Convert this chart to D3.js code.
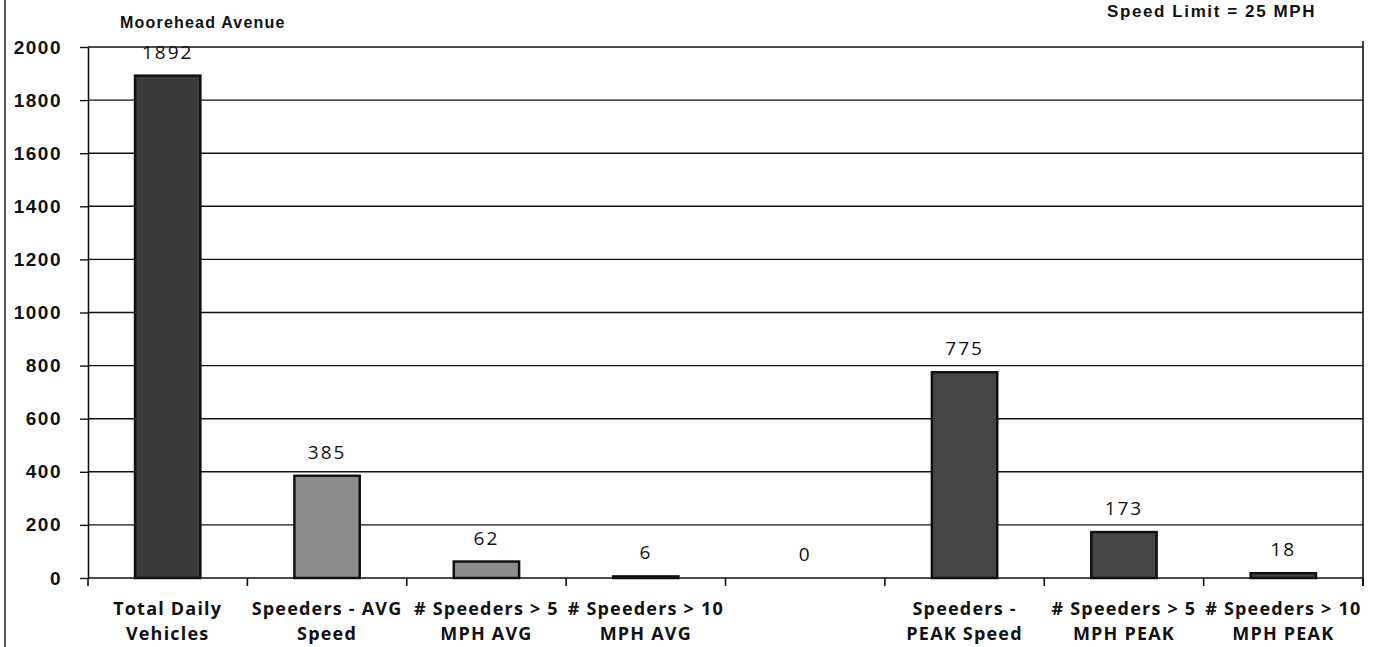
<!DOCTYPE html>
<html>
<head>
<meta charset="utf-8">
<script src="https://cdn.jsdelivr.net/npm/d3@7"></script>
<style>
  body { margin: 0; background: #fff; }
  svg { display: block; }
</style>
</head>
<body>
<div id="chart"></div>
<script>
// data
let categories = [
  ["Total Daily", "Vehicles"],
  ["Speeders - AVG", "Speed"],
  ["# Speeders > 5", "MPH AVG"],
  ["# Speeders > 10", "MPH AVG"],
  ["", ""],
  ["Speeders -", "PEAK Speed"],
  ["# Speeders > 5", "MPH PEAK"],
  ["# Speeders > 10", "MPH PEAK"]
];
let values = [1892, 385, 62, 6, 0, 775, 173, 18];
let barColors = ["#3a3a3a", "#8c8c8c", "#8c8c8c", "#8c8c8c", "#8c8c8c", "#464646", "#464646", "#464646"];
let yTicks = [0, 200, 400, 600, 800, 1000, 1200, 1400, 1600, 1800, 2000];

let width = 1377, height = 647;
let margin = {left: 88, right: 14, top: 47, bottom: 69};

let svg = d3.select("#chart").append("svg")
  .attr("width", width)
  .attr("height", height);

let x = d3.scaleBand()
  .domain(d3.range(categories.length))
  .range([margin.left, width - margin.right])
  .paddingInner(0.59)
  .paddingOuter(0.295);

let y = d3.scaleLinear()
  .domain([0, 2000])
  .range([height - margin.bottom, margin.top]);

// left scan border
svg.append("line")
  .attr("x1", 5).attr("x2", 5)
  .attr("y1", 0).attr("y2", height)
  .style("stroke", "#222").style("stroke-width", 1.5);

// gridlines
svg.append("g").selectAll("line")
  .data(yTicks.filter(d => d > 0))
  .enter().append("line")
  .attr("x1", margin.left).attr("x2", width - margin.right)
  .attr("y1", d => y(d)).attr("y2", d => y(d))
  .style("stroke", "#111").style("stroke-width", 1.4);

// right border
svg.append("line")
  .attr("x1", width - margin.right).attr("x2", width - margin.right)
  .attr("y1", y(2000) - 6).attr("y2", y(0) + 8)
  .style("stroke", "#111").style("stroke-width", 1.6);

// y axis
let yAxis = svg.append("g")
  .attr("transform", "translate(" + margin.left + ",0)")
  .call(d3.axisLeft(y).tickValues(yTicks).tickFormat(d3.format("d"))
    .tickSize(8).tickPadding(18).tickSizeOuter(0));
yAxis.select(".domain").style("stroke", "#111").style("stroke-width", 1.6);
yAxis.selectAll(".tick line").style("stroke", "#111").style("stroke-width", 1.4);
yAxis.selectAll("text")
  .style("font-family", "'Liberation Sans', Arial, sans-serif")
  .style("font-weight", "bold")
  .style("font-size", "19px")
  .style("letter-spacing", "1.5px")
  .style("fill", "#111");

// x axis
let xAxisG = svg.append("g")
  .attr("transform", "translate(0," + y(0) + ")");
xAxisG.append("line")
  .attr("x1", margin.left).attr("x2", width - margin.right)
  .style("stroke", "#111").style("stroke-width", 1.6);
let bounds = d3.range(categories.length + 1).map(i => margin.left + i * (width - margin.left - margin.right) / categories.length);
xAxisG.selectAll(".xt")
  .data(bounds)
  .enter().append("line")
  .attr("class", "xt")
  .attr("x1", d => d).attr("x2", d => d)
  .attr("y1", 0).attr("y2", 8)
  .style("stroke", "#111").style("stroke-width", 1.6);

// bars
svg.append("g").selectAll("rect")
  .data(values)
  .enter().append("rect")
  .attr("x", (d, i) => x(i))
  .attr("width", x.bandwidth())
  .attr("y", d => y(d))
  .attr("height", d => y(0) - y(d))
  .style("fill", (d, i) => barColors[i])
  .style("stroke", "#111")
  .style("stroke-width", 2.5);

// value labels
svg.append("g").selectAll("text")
  .data(values)
  .enter().append("text")
  .attr("x", (d, i) => x(i) + x.bandwidth() / 2)
  .attr("y", d => y(d) - 17)
  .attr("text-anchor", "middle")
  .style("font-family", "'Open Sans', sans-serif")
  .style("font-size", "19px")
  .style("letter-spacing", "2px")
  .style("fill", "#111")
  .text(d => d);

// category labels
let catG = svg.append("g").selectAll("text")
  .data(categories)
  .enter().append("text")
  .attr("text-anchor", "middle")
  .style("font-family", "'Open Sans', sans-serif")
  .style("font-weight", "bold")
  .style("font-size", "18px")
  .style("letter-spacing", "1.2px")
  .style("fill", "#111");
catG.each(function(d, i) {
  let t = d3.select(this);
  d.forEach((line, j) => {
    t.append("tspan")
      .attr("x", x(i) + x.bandwidth() / 2)
      .attr("y", 615 + j * 25)
      .text(line);
  });
});

// titles
svg.append("text")
  .attr("x", 120).attr("y", 28)
  .style("font-family", "'Liberation Sans', Arial, sans-serif")
  .style("font-weight", "bold")
  .style("font-size", "16px")
  .style("letter-spacing", "1.2px")
  .style("fill", "#111")
  .text("Moorehead Avenue");

svg.append("text")
  .attr("x", 1107).attr("y", 17)
  .style("font-family", "'Liberation Sans', Arial, sans-serif")
  .style("font-weight", "bold")
  .style("font-size", "17px")
  .style("letter-spacing", "1.6px")
  .style("fill", "#111")
  .text("Speed Limit = 25 MPH");
</script>
</body>
</html>
